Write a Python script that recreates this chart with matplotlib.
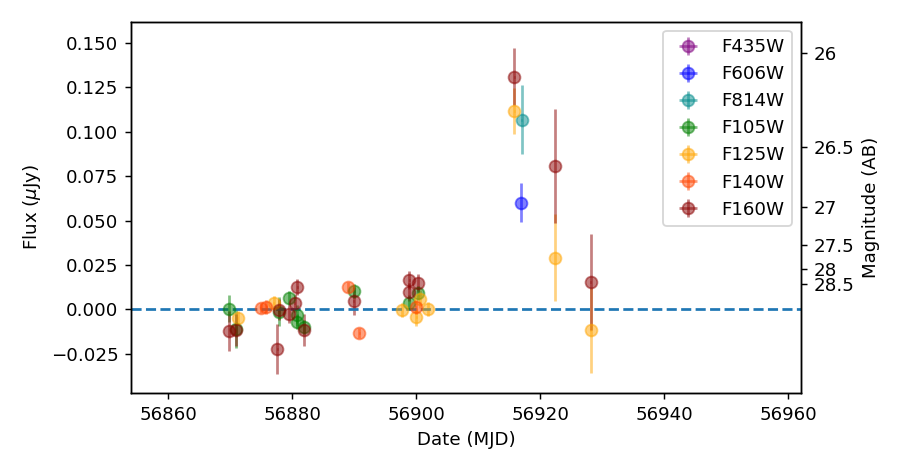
import numpy as np
import matplotlib
matplotlib.use("Agg")
import matplotlib.pyplot as plt
from matplotlib.ticker import MultipleLocator

# -- data --
filters = ["F435W", "F606W", "F814W", "F105W", "F125W", "F140W", "F160W"]
colors = ["purple", "blue", "darkcyan", "green", "orange", "orangered", "darkred"]

mjd_f435w = []
flux_f435w = []
err_f435w = []

mjd_f606w = [56916.9]
flux_f606w = [0.0599]
err_f606w = [0.011]

mjd_f814w = [56917.0]
flux_f814w = [0.1069]
err_f814w = [0.0197]

mjd_f105w = [56869.8, 56870.9, 56877.8, 56879.5, 56880.8, 56880.7, 56881.9, 56890.0, 56898.8, 56900.3]
flux_f105w = [0.0004, -0.0110, -0.0013, 0.0064, -0.0034, -0.0071, -0.0100, 0.0101, 0.0038, 0.0092]
err_f105w = [0.0075, 0.0110, 0.0080, 0.0040, 0.0060, 0.0040, 0.0040, 0.0040, 0.0040, 0.0040]

mjd_f125w = [56871.2, 56877.0, 56897.7, 56900.0, 56900.6, 56901.9, 56915.8, 56922.4, 56928.1]
flux_f125w = [-0.0049, 0.0035, -0.0006, -0.0043, 0.0060, 0.0000, 0.1118, 0.0290, -0.0118]
err_f125w = [0.0040, 0.0040, 0.0040, 0.0050, 0.0050, 0.0040, 0.0130, 0.0245, 0.0240]

mjd_f140w = [56874.9, 56875.8, 56889.0, 56890.8, 56899.9]
flux_f140w = [0.0007, 0.0013, 0.0125, -0.0133, 0.0013]
err_f140w = [0.0030, 0.0040, 0.0030, 0.0030, 0.0040]

mjd_f160w = [56869.8, 56870.9, 56877.6, 56877.8, 56879.5, 56880.4, 56880.8, 56881.9,
             56889.9, 56898.8, 56898.9, 56900.3, 56915.8, 56922.4, 56928.1]
flux_f160w = [-0.0122, -0.0118, -0.0225, -0.0002, -0.0028, 0.0037, 0.0125, -0.0118,
              0.0047, 0.0097, 0.0167, 0.0150, 0.1309, 0.0807, 0.0152]
err_f160w = [0.0110, 0.0090, 0.0140, 0.0060, 0.0050, 0.0050, 0.0045, 0.0090,
             0.0080, 0.0050, 0.0050, 0.0050, 0.0160, 0.0320, 0.0270]

mag_ticks = [26, 26.5, 27, 27.5, 28, 28.5]

series = [
    (mjd_f435w, flux_f435w, err_f435w),
    (mjd_f606w, flux_f606w, err_f606w),
    (mjd_f814w, flux_f814w, err_f814w),
    (mjd_f105w, flux_f105w, err_f105w),
    (mjd_f125w, flux_f125w, err_f125w),
    (mjd_f140w, flux_f140w, err_f140w),
    (mjd_f160w, flux_f160w, err_f160w),
]

DPI = 131
fig = plt.figure(figsize=(900 / DPI, 461 / DPI), dpi=DPI)
ax = fig.add_axes([0.1456, 0.148, 0.7441, 0.805])

for name, col, (t, f, e) in zip(filters, colors, series):
    # tiny xerr so the legend handle shows the cross like the original
    ax.errorbar(t, f, yerr=e, xerr=[0.05] * len(t), fmt="o", ms=6.5,
                color=col, alpha=0.5, label=name)

ax.axhline(0, color="C0", ls="--", lw=1.5)
ax.set_xlim(56854, 56962)
ax.set_ylim(-0.047, 0.162)
ax.yaxis.set_major_locator(MultipleLocator(0.025))
ax.set_xlabel("Date (MJD)")
ax.set_ylabel(r"Flux ($\mu$Jy)")
ax.legend(loc="upper right")

# magnitude axis: AB mag from flux in uJy
ax2 = ax.twinx()
ax2.set_ylim(ax.get_ylim())
ax2.set_yticks([10 ** ((23.9 - m) / 2.5) for m in mag_ticks])
ax2.set_yticklabels([f"{m:g}" for m in mag_ticks])
ax2.set_ylabel("Magnitude (AB)")

fig.savefig("out.png", dpi=DPI)
